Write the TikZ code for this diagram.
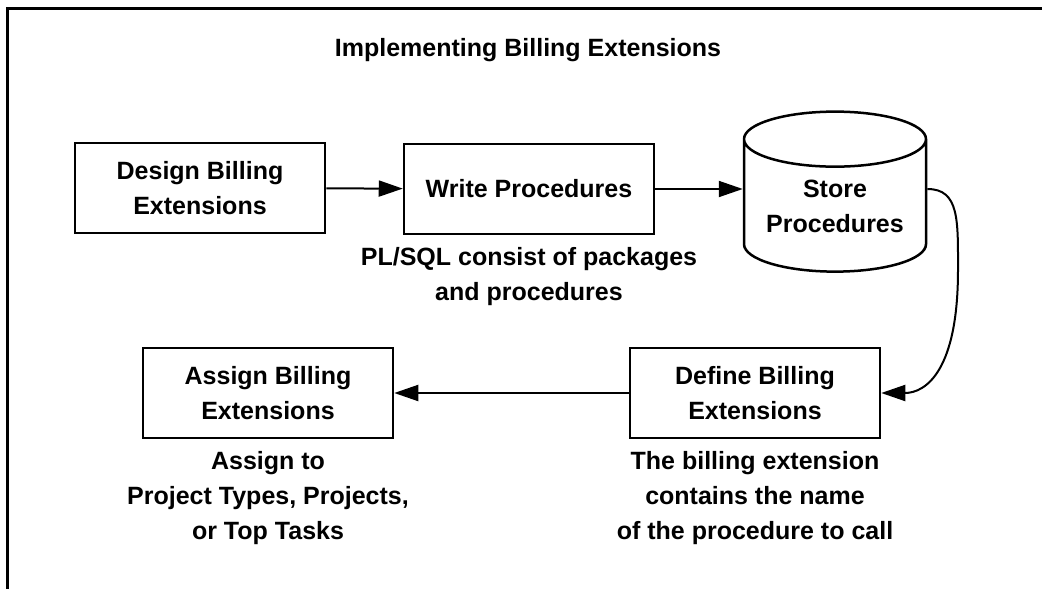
\documentclass[tikz,border=0pt]{standalone}
\usepackage{fontspec}
\setmainfont{Liberation Sans}
\usetikzlibrary{arrows.meta,positioning,shapes.geometric}
\begin{document}
\begin{tikzpicture}[x=1pt,y=-1pt,
  font=\fontsize{25}{35}\selectfont\bfseries,
  box/.style={draw,line width=2.5pt,minimum width=250pt,minimum height=90pt,align=center,inner sep=0pt},
  note/.style={align=center,inner sep=0pt},
  flow/.style={line width=2pt,-{Triangle[length=24pt,width=16pt]}}]
\useasboundingbox (0,0) rectangle (1042,589);
% frame
\draw[line width=3pt] (7,589) -- (7,8) -- (1042,8);
\node (title) at (528,50) {Implementing Billing Extensions};
% top row
\node[box] (design) at (200,188) {Design Billing\\Extensions};
\node[box] (write) at (529,189) {Write Procedures};
\node[draw,line width=2.5pt,cylinder,shape border rotate=90,aspect=0.4,minimum width=182pt,minimum height=160pt,align=center,inner sep=0pt] (store) at (835,206) {Store\\Procedures};
\node[note,below=12pt of write] (writenote) {PL/SQL consist of packages\\and procedures};
% bottom row
\node[box] (define) at (755,393) {Define Billing\\Extensions};
\node[box] (assign) at (268,393) {Assign Billing\\Extensions};
\node[note,below=12pt of define] (definenote) {The billing extension\\contains the name\\of the procedure to call};
\node[note,below=12pt of assign] (assignnote) {Assign to\\Project Types, Projects,\\or Top Tasks};
% connectors
\draw[flow] (design) -- (write);
\draw[flow] (write) -- (write -| store.west);
\coordinate (bend) at (958,270);
\draw[flow] (write -| store.east) .. controls +(32,0) and +(0,-50) .. (bend) .. controls +(0,100) and +(45,0) .. (define.east);
\draw[flow] (define) -- (assign);
\end{tikzpicture}
\end{document}
